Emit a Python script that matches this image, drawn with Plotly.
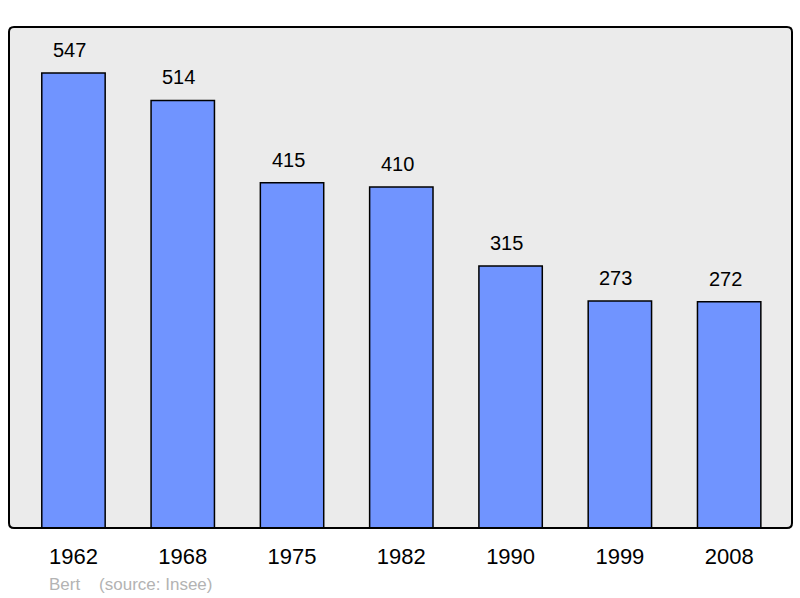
import plotly.graph_objects as go

years = ["1962", "1968", "1975", "1982", "1990", "1999", "2008"]
population = [547, 514, 415, 410, 315, 273, 272]
footer_text = "Bert    (source: Insee)"

fig = go.Figure()
fig.add_trace(go.Bar(
    x=years, y=population, width=0.58,
    marker=dict(color="#7094ff", line=dict(color="#000000", width=1.5)),
    hoverinfo="skip",
))

for i, v in enumerate(population):
    fig.add_annotation(x=i, y=v, text=str(v), showarrow=False,
                       xref="x", yref="y",
                       yanchor="bottom", yshift=10, xshift=-4,
                       font=dict(size=20, color="#000000", family="Liberation Sans, Arial"))

fig.add_annotation(xref="paper", yref="paper", x=0.049, y=-0.112, xanchor="left", yanchor="middle",
                   text=footer_text, showarrow=False,
                   font=dict(size=17, color="#b3b3b3", family="Liberation Sans, Arial"))

# rounded border around plot area
W, H = 783.0, 501.0
r = 5.0
rx, ry = r / W, r / H
path = (f"M {rx},0 L {1-rx},0 Q 1,0 1,{ry} L 1,{1-ry} Q 1,1 {1-rx},1 "
        f"L {rx},1 Q 0,1 0,{1-ry} L 0,{ry} Q 0,0 {rx},0 Z")
fig.add_shape(type="path", xref="paper", yref="paper", path=path,
              line=dict(color="#000000", width=2), layer="above")

fig.update_layout(
    width=800, height=598,
    margin=dict(l=9, r=8, t=27, b=70),
    paper_bgcolor="#ffffff", plot_bgcolor="#ebebeb",
    showlegend=False,
    font=dict(family="Liberation Sans, Arial", color="#000000"),
    xaxis=dict(type="category", range=[-0.59, 6.575], showgrid=False, zeroline=False, showline=False,
               ticks="", tickfont=dict(size=22, color="#000000"), ticklabelstandoff=13,
               fixedrange=True),
    yaxis=dict(range=[0, 602.3], showgrid=False, zeroline=False, showline=False,
               showticklabels=False, ticks="", fixedrange=True),
)

fig.write_html("out.html", config={"displayModeBar": False},
               post_script="document.body.style.margin='0';document.body.style.overflow='hidden';")
